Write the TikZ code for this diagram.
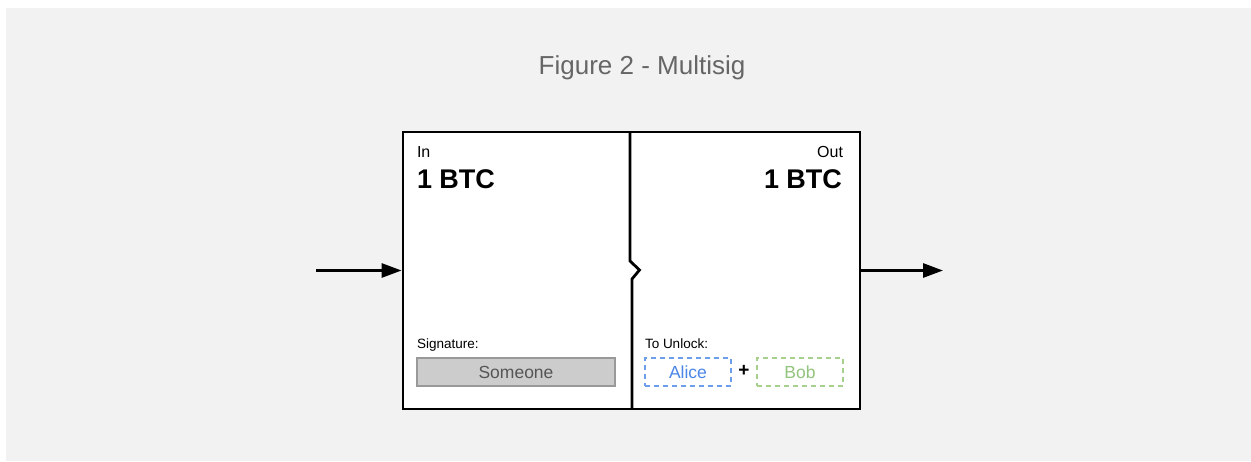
\documentclass[tikz,border=0pt]{standalone}
\usepackage{fontspec}
\setmainfont{Liberation Sans}
\usetikzlibrary{arrows.meta}
\definecolor{bggray}{HTML}{F2F2F2}
\definecolor{titlegray}{HTML}{666666}
\definecolor{somefill}{HTML}{CCCCCC}
\definecolor{someline}{HTML}{999999}
\definecolor{sometext}{HTML}{555555}
\definecolor{aliceblue2}{HTML}{6D9EEB}
\definecolor{alicetext}{HTML}{4A86E8}
\definecolor{bobline}{HTML}{A8D08D}
\definecolor{bobtext}{HTML}{93C47D}
\newcommand{\fs}[1]{\fontsize{#1}{#1}\selectfont}
\begin{document}
\begin{tikzpicture}[x=1pt,y=-1pt,
  lbl/.style={inner sep=0pt, outer sep=0pt},
  keybox/.style={minimum width=86pt, minimum height=28pt, inner sep=0pt, line width=1.4pt, dash pattern=on 5pt off 4pt, font=\fs{17.5}},
  arr/.style={line width=2.8pt, -{Triangle[length=20pt,width=14pt]}},
  edge/.style={line width=2.8pt, line join=miter}]
\useasboundingbox (0,0) rectangle (1251,461);
\fill[white] (0,0) rectangle (1251,461);
\fill[bggray] (6,8) rectangle (1251,461);
\node[lbl, anchor=base, text=titlegray, font=\fs{26}] (title) at (642,74) {Figure 2 - Multisig};
% transaction box
\node[draw, edge, fill=white, minimum width=457pt, minimum height=277pt, inner sep=0pt] (tx) at (631.5,270.5) {};
% divider
\coordinate (d1) at (630,132);
\coordinate (d2) at (630,261);
\coordinate (d3) at (639.5,270);
\coordinate (d4) at (632,279);
\coordinate (d5) at (632,409);
\draw[edge] (d1) -- (d2) -- (d3) -- (d4) -- (d5);
% arrows
\coordinate (inS) at (316,270.5);
\coordinate (outE) at (943,270.5);
\draw[arr] (inS) -- (tx.west);
\draw[arr] (tx.east) -- (outE);
% texts
\node[lbl, anchor=base west, font=\fs{16}] (inlbl) at (417,157) {In};
\node[lbl, anchor=base west, font=\bfseries\fs{27}] (inval) at (417,188) {1 BTC};
\node[lbl, anchor=base east, font=\fs{16}] (outlbl) at (843,157) {Out};
\node[lbl, anchor=base east, font=\bfseries\fs{27}] (outval) at (842,188) {1 BTC};
\node[lbl, anchor=base west, font=\fs{13.5}] (siglbl) at (417,348) {Signature:};
\node[lbl, anchor=base west, font=\fs{13.5}] (unlbl) at (645,348) {To Unlock:};
\node[draw=someline, fill=somefill, line width=1.3pt, minimum width=198pt, minimum height=28pt, inner sep=0pt, text=sometext, font=\fs{17.5}] (someone) at (516,372) {Someone};
\node[keybox, draw=aliceblue2, text=alicetext] (alice) at (688,372) {Alice};
\node[lbl, font=\bfseries\fs{19}] (plus) at (744,371) {+};
\node[keybox, draw=bobline, text=bobtext] (bob) at (800,372) {Bob};
\end{tikzpicture}
\end{document}
